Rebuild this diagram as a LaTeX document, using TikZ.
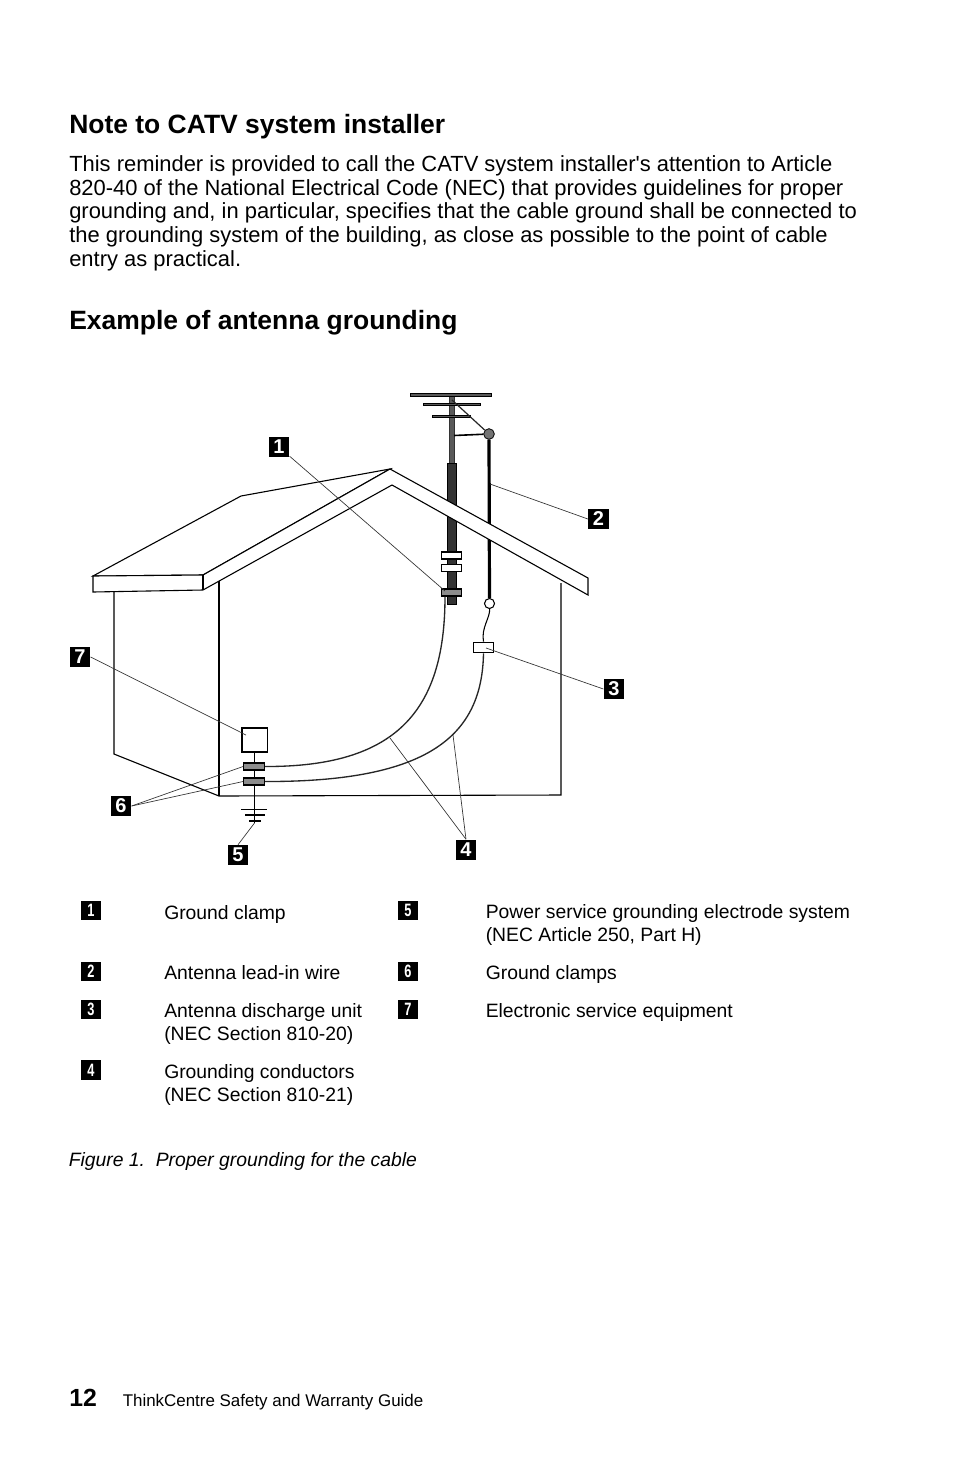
\documentclass[tikz,border=0pt]{standalone}
\usepackage{fontspec}
\setmainfont{Liberation Sans}
\newfontfamily\plainf{Liberation Sans}
\newcommand{\narrowdigit}[1]{\scalebox{0.8}[1.12]{#1}}
\begin{document}
\begin{tikzpicture}[x=0.75pt,y=-0.75pt,
  line/.style={draw=black,line width=0.82pt},
  leader/.style={draw=black!80,line width=0.5pt},
  cond/.style={draw=black!85,line width=1pt},
  badge/.style={fill=black,text=white,inner sep=0pt,minimum width=15.5pt,minimum height=15pt,font=\fontsize{15}{15}\selectfont\bfseries},
  sbadge/.style={fill=black,text=white,inner sep=0pt,minimum width=15pt,minimum height=14.5pt,font=\fontsize{12}{12}\selectfont\bfseries},
  txt/.style={anchor=base west,inner sep=0pt,font=\fontsize{16.45}{17.8}\selectfont},
  leg/.style={anchor=north west,align=left,inner sep=0pt,font=\fontsize{14.5}{17.4}\selectfont},
  head/.style={anchor=base west,inner sep=0pt,font=\fontsize{19.85}{22}\selectfont\bfseries},
  clampw/.style={draw=black,fill=white,line width=0.95pt,minimum width=15.5pt,minimum height=5.3pt,inner sep=0pt},
  clampg/.style={draw=black,fill=black!45,line width=0.95pt,minimum width=15.5pt,minimum height=5.3pt,inner sep=0pt}]
\useasboundingbox (0,0) rectangle (954,1475);
\fill[white] (0,0) rectangle (954,1475);
% text
\node[head] (h1) at (69,133) {Note to CATV system installer};
\node[txt] (p1) at (69,171) {This reminder is provided to call the CATV system installer{\plainf\char39}s attention to Article};
\node[txt] (p2) at (69,195) {820-40 of the National Electrical Code (NEC) that provides guidelines for proper};
\node[txt] (p3) at (69,218) {grounding and, in particular, specifies that the cable ground shall be connected to};
\node[txt] (p4) at (69,242) {the grounding system of the building, as close as possible to the point of cable};
\node[txt] (p5) at (69,266) {entry as practical.};
\node[head] (h2) at (69,329) {Example of antenna grounding};
% mast
\fill[black!65,draw=black!80,line width=0.4pt] (449.5,396) rectangle (454.5,463);
\fill[black!80,draw=black] (447.5,463) rectangle (456.5,604);
\fill[black!65,draw=black,line width=0.6pt] (410.5,393.5) rectangle (491,396.5);
\fill[black!65,draw=black,line width=0.6pt] (423,403.5) rectangle (480,405.5);
\fill[black!65,draw=black,line width=0.6pt] (432,415) rectangle (470,417);
\node[circle,draw=black,fill=black!55,line width=0.6pt,minimum size=8pt,inner sep=0pt] (ball) at (489,434) {};
\draw[line width=1.2pt] (454,435.5) -- (ball);
\coordinate (mt) at (452,400);
\draw[line width=0.9pt,black!85] (mt) -- (ball);
\node[circle,draw=black,fill=white,line width=0.8pt,minimum size=7.5pt,inner sep=0pt] (eye) at (489.5,603.5) {};
\draw[line width=2.4pt] (ball) -- (eye);
% roof and house
\draw[line,fill=white] (241,496) -- (390,469) -- (203,575) -- (93,576) -- cycle;
\draw[line] (114,591) -- (114,754) -- (219,796) -- (561,795) -- (561,583);
\draw[line] (219,580) -- (219,796);
\draw[line,fill=white] (93,576) -- (203,575) -- (390,469) -- (588,578) -- (588,595) -- (392,485) -- (203,590) -- (93,592) -- cycle;
\draw[line] (203,575) -- (203,590);
% clamps on mast
\node[clampw] (c1) at (451.5,555.5) {};
\node[clampw] (c2) at (451.5,568) {};
\node[clampg] (c3) at (451.5,592.5) {};
% discharge
\node[draw=black,fill=white,line width=0.8pt,minimum width=15.5pt,minimum height=8pt,inner sep=0pt] (dis) at (483.5,647.5) {};
\draw[line width=0.8pt] (eye) .. controls (490,618) and (481,628) .. (dis.north);
% electronic and ground
\node[draw=black,fill=white,line width=1pt,minimum width=19pt,minimum height=18pt,inner sep=0pt] (eq) at (254.5,740) {};
\coordinate (g1a) at (241,809); \coordinate (g1b) at (267,809);
\coordinate (g2a) at (245,815); \coordinate (g2b) at (265,815);
\coordinate (g3a) at (249,821); \coordinate (g3b) at (261,821);
\coordinate (g3) at (254.5,823);
\draw[line width=0.8pt] (eq.south) -- (g3);
\draw[line width=0.6pt] (g1a) -- (g1b);
\draw[line width=1.2pt] (g2a) -- (g2b);
\draw[line width=1.2pt] (g3a) -- (g3b);
\node[clampg] (c4) at (254,766.5) {};
\node[clampg] (c5) at (254,781.5) {};
% conductors
\draw[cond] (c3.south -| 445,0) .. controls (445,712) and (395,767) .. (c4.east);
\draw[cond] (dis.south) .. controls (482,735) and (430,782) .. (c5.east);
% badges
\node[badge] (b1) at (279,447) {1};
\node[badge] (b2) at (598.5,519) {2};
\node[badge] (b3) at (614,689) {3};
\node[badge] (b4) at (466,849.5) {4};
\node[badge] (b5) at (238,855) {5};
\node[badge] (b6) at (121,806) {6};
\node[badge] (b7) at (80,657) {7};
% leaders
\coordinate (t1) at (445,591);
\coordinate (t2) at (490,484);
\coordinate (t3) at (486,648);
\coordinate (t4a) at (390,738);
\coordinate (t4b) at (453,735);
\coordinate (t7) at (246,735);
\draw[leader] (b1) -- (t1);
\draw[leader] (b2.west) -- (t2);
\draw[leader] (b3.west) -- (t3);
\draw[leader] (b4.north) -- (t4a);
\draw[leader] (b4.north) -- (t4b);
\draw[leader] (b5.north) -- (g3);
\draw[leader] (b6.east) -- (c4.west);
\draw[leader] (b6.east) -- (c5.west);
\draw[leader] (b7.east) -- (t7);
% legend
\node[sbadge] (k1) at (91,910.5) {\narrowdigit{1}};
\node[sbadge] (k2) at (91,971.5) {\narrowdigit{2}};
\node[sbadge] (k3) at (91,1009.5) {\narrowdigit{3}};
\node[sbadge] (k4) at (91,1070) {\narrowdigit{4}};
\node[sbadge] (k5) at (408,910.5) {\narrowdigit{5}};
\node[sbadge] (k6) at (408,971.5) {\narrowdigit{6}};
\node[sbadge] (k7) at (408,1009.5) {\narrowdigit{7}};
\node[leg] (l1) at (164,905) {Ground clamp};
\node[leg] (l2) at (164,965) {Antenna lead-in wire};
\node[leg] (l3) at (164,1003) {Antenna discharge unit\\(NEC Section 810-20)};
\node[leg] (l4) at (164,1064) {Grounding conductors\\(NEC Section 810-21)};
\node[leg] (l5) at (485.5,904.5) {Power service grounding electrode system\\(NEC Article 250, Part H)};
\node[leg] (l6) at (485.5,965) {Ground clamps};
\node[leg] (l7) at (485.5,1003) {Electronic service equipment};
\node[anchor=base west,inner sep=0pt,font=\fontsize{14.5}{17}\selectfont\itshape] (cap) at (68.5,1166) {Figure 1.\ \ Proper grounding for the cable};
\node[anchor=base west,inner sep=0pt,font=\fontsize{18.6}{22}\selectfont\bfseries] (pn) at (69,1406) {12};
\node[anchor=base west,inner sep=0pt,font=\fontsize{12.7}{15}\selectfont] (ft) at (122.5,1406) {ThinkCentre Safety and Warranty Guide};
\end{tikzpicture}
\end{document}
